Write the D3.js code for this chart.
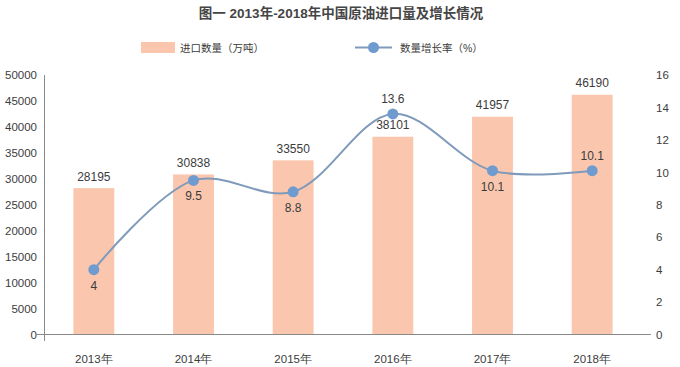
<!DOCTYPE html>
<html><head><meta charset="utf-8">
<script src="https://cdn.jsdelivr.net/npm/d3@7"></script>
<style>
html,body{margin:0;padding:0;background:#fff;}
svg{display:block;font-family:"Liberation Sans","Noto Sans CJK SC",sans-serif;}
</style></head>
<body>
<svg id="chart" width="680" height="367"></svg>
<script>
const titleText = "图一 2013年-2018年中国原油进口量及增长情况";
const categories = ["2013年","2014年","2015年","2016年","2017年","2018年"];
const importVolume = [28195, 30838, 33550, 38101, 41957, 46190];
const growthRate = [4, 9.5, 8.8, 13.6, 10.1, 10.1];
const leftTicks = [0,5000,10000,15000,20000,25000,30000,35000,40000,45000,50000];
const rightTicks = [0,2,4,6,8,10,12,14,16];
const seriesNames = ["进口数量（万吨）","数量增长率（%）"];

const svg = d3.select("#chart");
const barColor = "#fac6ad", lineColor = "#7f9abb", dotColor = "#6f9bcf", textColor = "#3c3c3c", axisColor = "#8a8a8a";

const x = d3.scaleBand().domain(categories).range([44, 642]).paddingInner(0.59).paddingOuter(0.295);
const yL = d3.scaleLinear().domain([0, 50000]).range([334.5, 75]);
const yR = d3.scaleLinear().domain([0, 16]).range([334.5, 75]);

// title
svg.append("text").attr("x", 341).attr("y", 18).attr("text-anchor", "middle")
  .attr("font-size", 13.5).attr("font-weight", "bold").attr("fill", "#454545").text(titleText);

// legend
svg.append("rect").attr("x", 141).attr("y", 42).attr("width", 34).attr("height", 11).attr("fill", barColor);
svg.append("text").attr("x", 180).attr("y", 51.5).attr("font-size", 10.5).attr("fill", textColor).text(seriesNames[0]);
svg.append("line").attr("x1", 355).attr("x2", 392).attr("y1", 47.5).attr("y2", 47.5).attr("stroke", lineColor).attr("stroke-width", 2);
svg.append("circle").attr("cx", 373.5).attr("cy", 47.5).attr("r", 5.5).attr("fill", dotColor);
svg.append("text").attr("x", 400).attr("y", 51.5).attr("font-size", 10.5).attr("fill", textColor).text(seriesNames[1]);

// bars
svg.append("g").selectAll("rect").data(importVolume).join("rect")
  .attr("x", (d, i) => x(categories[i])).attr("width", x.bandwidth())
  .attr("y", d => yL(d)).attr("height", d => yL(0) - yL(d)).attr("fill", barColor);

// axes
const axL = d3.axisLeft(yL).tickValues(leftTicks).tickFormat(d3.format("d")).tickSize(0).tickPadding(7);
const gL = svg.append("g").attr("transform", "translate(44,0)").call(axL);
gL.select(".domain").remove();
gL.selectAll("text").attr("font-size", 11.5).attr("fill", textColor).attr("font-family", "Liberation Sans");

const axR = d3.axisRight(yR).tickValues(rightTicks).tickFormat(d3.format("d")).tickSize(0).tickPadding(12);
const gR = svg.append("g").attr("transform", "translate(644,0)").call(axR);
gR.select(".domain").remove();
gR.selectAll("text").attr("font-size", 11.5).attr("fill", textColor).attr("font-family", "Liberation Sans");

const axB = d3.axisBottom(x).tickSize(0).tickPadding(20);
const gB = svg.append("g").attr("transform", "translate(0,334.5)").call(axB);
gB.select(".domain").remove();
gB.selectAll("text").attr("font-size", 11.5).attr("fill", textColor);

svg.append("line").attr("x1", 36).attr("x2", 651).attr("y1", yL(0)).attr("y2", yL(0)).attr("stroke", axisColor).attr("stroke-width", 1);
svg.append("line").attr("x1", 44.5).attr("x2", 44.5).attr("y1", 75).attr("y2", 341).attr("stroke", axisColor).attr("stroke-width", 1);

// bar value labels
svg.append("g").selectAll("text").data(importVolume).join("text")
  .attr("x", (d, i) => x(categories[i]) + x.bandwidth() / 2)
  .attr("y", d => yL(d) - 7.5).attr("text-anchor", "middle")
  .attr("font-size", 12).attr("fill", textColor).text(d => d);

// line
const cx = i => x(categories[i]) + x.bandwidth() / 2;
const line = d3.line().x((d, i) => cx(i)).y(d => yR(d)).curve(d3.curveCatmullRom.alpha(0.5));
svg.append("path").datum(growthRate).attr("d", line).attr("fill", "none")
  .attr("stroke", lineColor).attr("stroke-width", 2);
svg.append("g").selectAll("circle").data(growthRate).join("circle")
  .attr("cx", (d, i) => cx(i)).attr("cy", d => yR(d)).attr("r", 5.5).attr("fill", dotColor);

const above = new Set(["2016年", "2018年"]);
svg.append("g").selectAll("text").data(growthRate).join("text")
  .attr("x", (d, i) => cx(i))
  .attr("y", (d, i) => above.has(categories[i]) ? yR(d) - 10.5 : yR(d) + 20)
  .attr("text-anchor", "middle").attr("font-size", 12).attr("fill", textColor).text(d => d);
</script>
</body></html>
